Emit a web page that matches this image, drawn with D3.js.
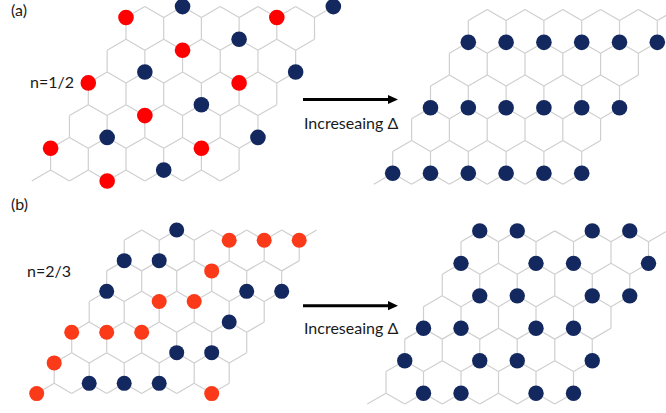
<!DOCTYPE html>
<html>
<head>
<meta charset="utf-8">
<script src="https://cdn.jsdelivr.net/npm/d3@7"></script>
<style>
  html, body { margin: 0; padding: 0; background: #ffffff; }
  svg { display: block; }
  text { font-family: Lato, "Open Sans", sans-serif; fill: #1a1a1a; }
</style>
</head>
<body>
<script>
// Honeycomb flake: CELLS x CELLS unit cells, each holding an A site (top of a
// vertical bond) and a B site (bottom of it). Sites are given as [i, r].
const CELLS = 6;

// Panel labels and annotations
const panelLabels = ["(a)", "(b)"];
const fillingLabels = ["n=1/2", "n=2/3"];
const arrowLabel = "Increseaing \u0394";

// (a) n = 1/2, small gap: red on A sites, blue on B sites
const aLeftRed  = [[0,0],[4,0],[2,1],[0,2],[4,2],[2,3],[0,4],[4,4],[2,5]];
const aLeftBlue = [[1,-1],[5,-1],[3,0],[1,1],[5,1],[3,2],[1,3],[5,3],[3,4]];
// (a) large gap: all blue on B sites
const aRightBlue = [
  [0,0],[1,0],[2,0],[3,0],[4,0],[5,0],
  [0,2],[1,2],[2,2],[3,2],[4,2],[5,2],
  [0,4],[1,4],[2,4],[3,4],[4,4],[5,4]
];

// (b) n = 2/3, small gap: red on A sites, blue on B sites
const bLeftRed  = [[3,0],[4,0],[5,0],[3,1],[2,2],[3,2],[0,3],[1,3],[2,3],[0,4],[0,5],[5,5]];
const bLeftBlue = [[1,-1],[0,0],[1,0],[0,1],[4,1],[5,1],[4,2],[3,3],[4,3],[1,4],[2,4],[3,4]];
// (b) large gap: blue on B sites
const bRightBlue = [
  [0,-1],[1,-1],[3,-1],[4,-1],
  [0,0],[2,0],[3,0],[5,0],
  [1,1],[2,1],[4,1],[5,1],
  [0,2],[1,2],[3,2],[4,2],
  [0,3],[2,3],[3,3],[5,3],
  [1,4],[2,4],[4,4],[5,4]
];

const RED_A = "#fe0000";
const RED_B = "#fb3a1a";
const NAVY  = "#13285e";
const BOND  = "#cfcfcf";

const W = 666, H = 413;
const svg = d3.select("body").append("svg")
  .attr("width", W).attr("height", H)
  .attr("viewBox", `0 0 ${W} ${H}`);

// lattice coordinates: u in hexagon widths, v in bond lengths
const posA = ([i, r]) => ({u: i - r / 2, v: 1.5 * r});
const posB = ([i, r]) => ({u: i - r / 2, v: 1.5 * r + 1});

function bonds() {
  const list = [];
  for (let r = 0; r < CELLS; r++) {
    for (let i = 0; i < CELLS; i++) {
      list.push([posB([i, r - 1]), posA([i, r])]);
      if (i + 1 < CELLS) list.push([posB([i, r - 1]), posA([i + 1, r])]);
      if (r < CELLS - 1) list.push([posA([i, r]), posB([i, r])]);
    }
  }
  return list;
}

function flake(cfg) {
  const s = cfg.bondY;              // vertical bond length in px
  const x = d3.scaleLinear().domain([0, 1]).range([cfg.x0, cfg.x0 + cfg.hexW]);
  const y = d3.scaleLinear().domain([0, 1]).range([cfg.y0, cfg.y0 + s]);
  const g = svg.append("g");
  g.selectAll("line").data(bonds()).join("line")
    .attr("x1", d => x(d[0].u)).attr("y1", d => y(d[0].v))
    .attr("x2", d => x(d[1].u)).attr("y2", d => y(d[1].v))
    .attr("stroke", BOND).attr("stroke-width", 1.2);
  cfg.dots.forEach(set => {
    const pos = set.site === "A" ? posA : posB;
    g.selectAll(null).data(set.sites).join("circle")
      .attr("cx", d => x(pos(d).u))
      .attr("cy", d => y(pos(d).v))
      .attr("r", cfg.radius)
      .attr("fill", set.color);
  });
}

flake({x0: 126, y0: 17.5, hexW: 37.7, bondY: 21.8, radius: 7.8,
  dots: [{site: "A", sites: aLeftRed, color: RED_A}, {site: "B", sites: aLeftBlue, color: NAVY}]});
flake({x0: 468.3, y0: 20.5, hexW: 37.8, bondY: 21.83, radius: 7.8,
  dots: [{site: "B", sites: aRightBlue, color: NAVY}]});
flake({x0: 124.2, y0: 240.2, hexW: 35, bondY: 20.45, radius: 7.5,
  dots: [{site: "A", sites: bLeftRed, color: RED_B}, {site: "B", sites: bLeftBlue, color: NAVY}]});
flake({x0: 461, y0: 241.7, hexW: 37.5, bondY: 21.65, radius: 7.7,
  dots: [{site: "B", sites: bRightBlue, color: NAVY}]});

// panel labels
const labelPos = [[11, 15.5], [11, 210]];
svg.selectAll("text.panel").data(panelLabels).join("text")
  .attr("class", "panel")
  .attr("x", (d, k) => labelPos[k][0]).attr("y", (d, k) => labelPos[k][1])
  .attr("font-size", 16).text(d => d);

const fillPos = [[30, 88], [27, 277]];
svg.selectAll("text.fill").data(fillingLabels).join("text")
  .attr("class", "fill")
  .attr("x", (d, k) => fillPos[k][0]).attr("y", (d, k) => fillPos[k][1])
  .attr("font-size", 16).text(d => d);

// arrows with caption
const arrowRows = [{y: 99.5, ty: 128.5}, {y: 305.7, ty: 333.5}];
arrowRows.forEach(a => {
  svg.append("line")
    .attr("x1", 303).attr("x2", 390).attr("y1", a.y).attr("y2", a.y)
    .attr("stroke", "#000").attr("stroke-width", 3);
  svg.append("path")
    .attr("d", `M388,${a.y - 4.6}L398,${a.y}L388,${a.y + 4.6}Z`)
    .attr("fill", "#000");
  svg.append("text")
    .attr("x", 304).attr("y", a.ty)
    .attr("font-size", 16).text(arrowLabel);
});
</script>
</body>
</html>
